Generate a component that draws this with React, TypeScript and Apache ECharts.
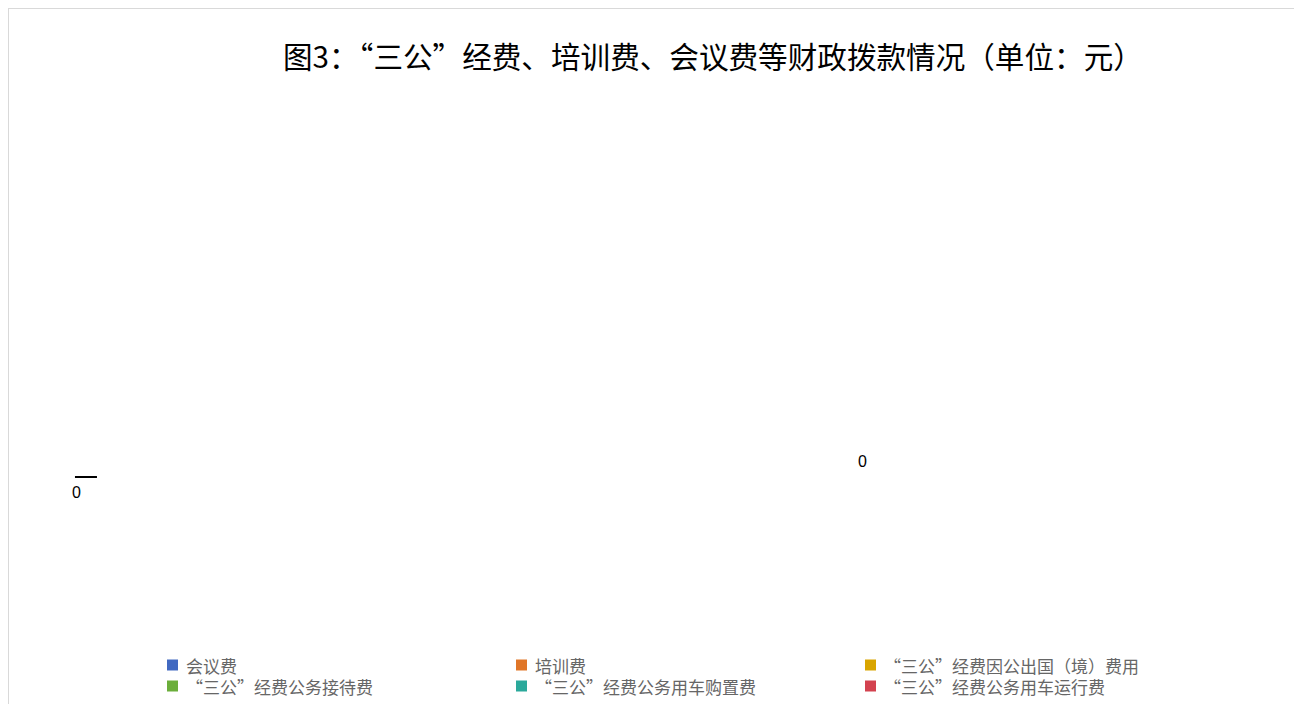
import React, { useEffect, useRef } from "react";
import * as echarts from "echarts";

const TITLE = "图3：“三公”经费、培训费、会议费等财政拨款情况（单位：元）";
const CATEGORIES = [
  "会议费",
  "培训费",
  "“三公”经费因公出国（境）费用",
  "“三公”经费公务接待费",
  "“三公”经费公务用车购置费",
  "“三公”经费公务用车运行费",
];
const VALUES = [0, 0, 0, 0, 0, 0];
const COLORS = ["#4169C1", "#E07628", "#D9A500", "#6BAE3B", "#2BA99B", "#D3424F"];
// which slice labels are visible in the reference, and where
const LABEL_MODE = ["outside", "center", "none", "none", "none", "none"];

export default function App() {
  const ref = useRef<HTMLDivElement>(null);
  useEffect(() => {
    document.documentElement.style.overflow = "hidden";
    document.body.style.overflow = "hidden";
    const chart = echarts.init(ref.current!, undefined, { renderer: "svg" });
    const data = CATEGORIES.map((name, i) => {
      const mode = LABEL_MODE[i];
      const item: any = { name, value: VALUES[i] };
      if (mode === "none") {
        item.label = { show: false };
        item.labelLine = { show: false };
      } else if (mode === "center") {
        item.label = { show: true, position: "center", formatter: "{c}" };
        item.labelLine = { show: false };
      } else {
        item.label = {
          show: true,
          position: "outside",
          distanceToLabelLine: -6,
          formatter: "\n{c}",
          lineHeight: 30,
        };
        item.labelLine = { show: true, length: 1, length2: 21 };
      }
      return item;
    });
    chart.setOption({
      animation: false,
      color: COLORS,
      title: {
        text: TITLE,
        left: 269,
        top: 27,
        textStyle: {
          fontFamily: "Noto Sans CJK SC",
          fontWeight: "normal",
          fontSize: 29.6,
          color: "#000",
        },
      },
      legend: {
        data: CATEGORIES,
        left: 153,
        top: 642.5,
        width: 1080,
        orient: "horizontal",
        itemWidth: 11,
        itemHeight: 11,
        itemGap: 4,
        icon: "rect",
        selectedMode: false,
        textStyle: {
          fontFamily: "Noto Sans CJK SC",
          fontSize: 17,
          color: "#666",
          width: 326,
          lineHeight: 17,
          padding: [0, 0, 0, 3],
        },
      },
      series: [
        {
          type: "pie",
          center: [853.5, 452],
          radius: 765.7,
          startAngle: 181.2,
          stillShowZeroSum: false,
          showEmptyCircle: false,
          avoidLabelOverlap: false,
          silent: true,
          itemStyle: { borderWidth: 0 },
          label: {
            fontFamily: "Liberation Sans",
            fontSize: 16,
            color: "#000",
          },
          labelLine: {
            lineStyle: { color: "#000", width: 2 },
          },
          emphasis: { disabled: true },
          data,
        },
      ],
    });
    return () => chart.dispose();
  }, []);
  return (
    <div
      ref={ref}
      style={{
        width: 1300,
        height: 700,
        border: "1px solid #d9d9d9",
        boxSizing: "border-box",
      }}
    />
  );
}
